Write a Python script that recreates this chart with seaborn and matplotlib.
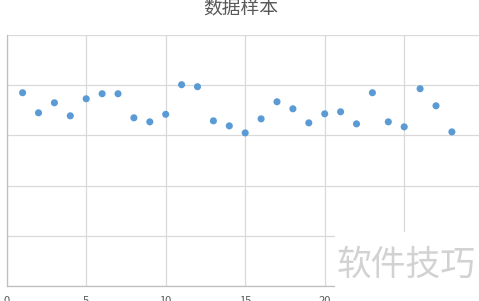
import matplotlib
matplotlib.use("Agg")
import matplotlib.pyplot as plt
import seaborn as sns
import pandas as pd

# Data
sample_index = list(range(1, 29))
sample_values = [3.85, 3.45, 3.65, 3.39, 3.73, 3.83, 3.83, 3.35, 3.27, 3.42,
                 4.01, 3.97, 3.29, 3.19, 3.05, 3.33, 3.67, 3.53, 3.25, 3.43,
                 3.47, 3.23, 3.85, 3.27, 3.17, 3.93, 3.59, 3.07]
x_ticks = [0, 5, 10, 15, 20, 25, 30]
x_tick_labels = ["0", "5", "10", "15", "20", "25", "30"]
title_text = "数据样本"
watermark_text = "软件技巧"

sns.set_theme(style="white")
plt.rcParams['font.family'] = ['Noto Sans CJK SC', 'DejaVu Sans']

df = pd.DataFrame({"x": sample_index, "y": sample_values})

fig = plt.figure(figsize=(4.79, 3.01), dpi=100)
ax = fig.add_axes([6.7 / 479, (301 - 286) / 301, 477 / 479, 251 / 301])

sns.scatterplot(data=df, x="x", y="y", ax=ax, color="#5b9bd5", s=26,
                edgecolor="none", linewidth=0, zorder=3)

ax.set_xlim(0, 30)
ax.set_ylim(0, 5)
ax.set_xticks(x_ticks)
ax.set_xticklabels(x_tick_labels)
ax.set_yticks([0, 1, 2, 3, 4, 5])
ax.set_yticklabels([])
ax.grid(True, color="#d9d9d9", linewidth=0.9)
ax.set_axisbelow(True)
ax.set_xlabel("")
ax.set_ylabel("")
for side in ["top", "right"]:
    ax.spines[side].set_visible(False)
for side in ["left", "bottom"]:
    ax.spines[side].set_color("#bfbfbf")
    ax.spines[side].set_linewidth(0.9)
ax.tick_params(axis="both", length=0, pad=7, labelsize=8, labelcolor="#595959")
ax.tick_params(axis="y", pad=0)

fig.text(241 / 479, 1 - 8 / 301, title_text, ha="center", va="center",
         fontsize=13.5, color="#595959")

# Watermark with white box covering the lower-right corner
fig.patches.append(plt.Rectangle((335 / 479, 0), 1, (301 - 232) / 301,
                                 transform=fig.transFigure, facecolor="white",
                                 edgecolor="none", zorder=5))
fig.text(406 / 479, 1 - 265 / 301, watermark_text, ha="center", va="center",
         fontsize=25, color="#d2d2d2", zorder=6)

fig.savefig("out.png", dpi=100)
